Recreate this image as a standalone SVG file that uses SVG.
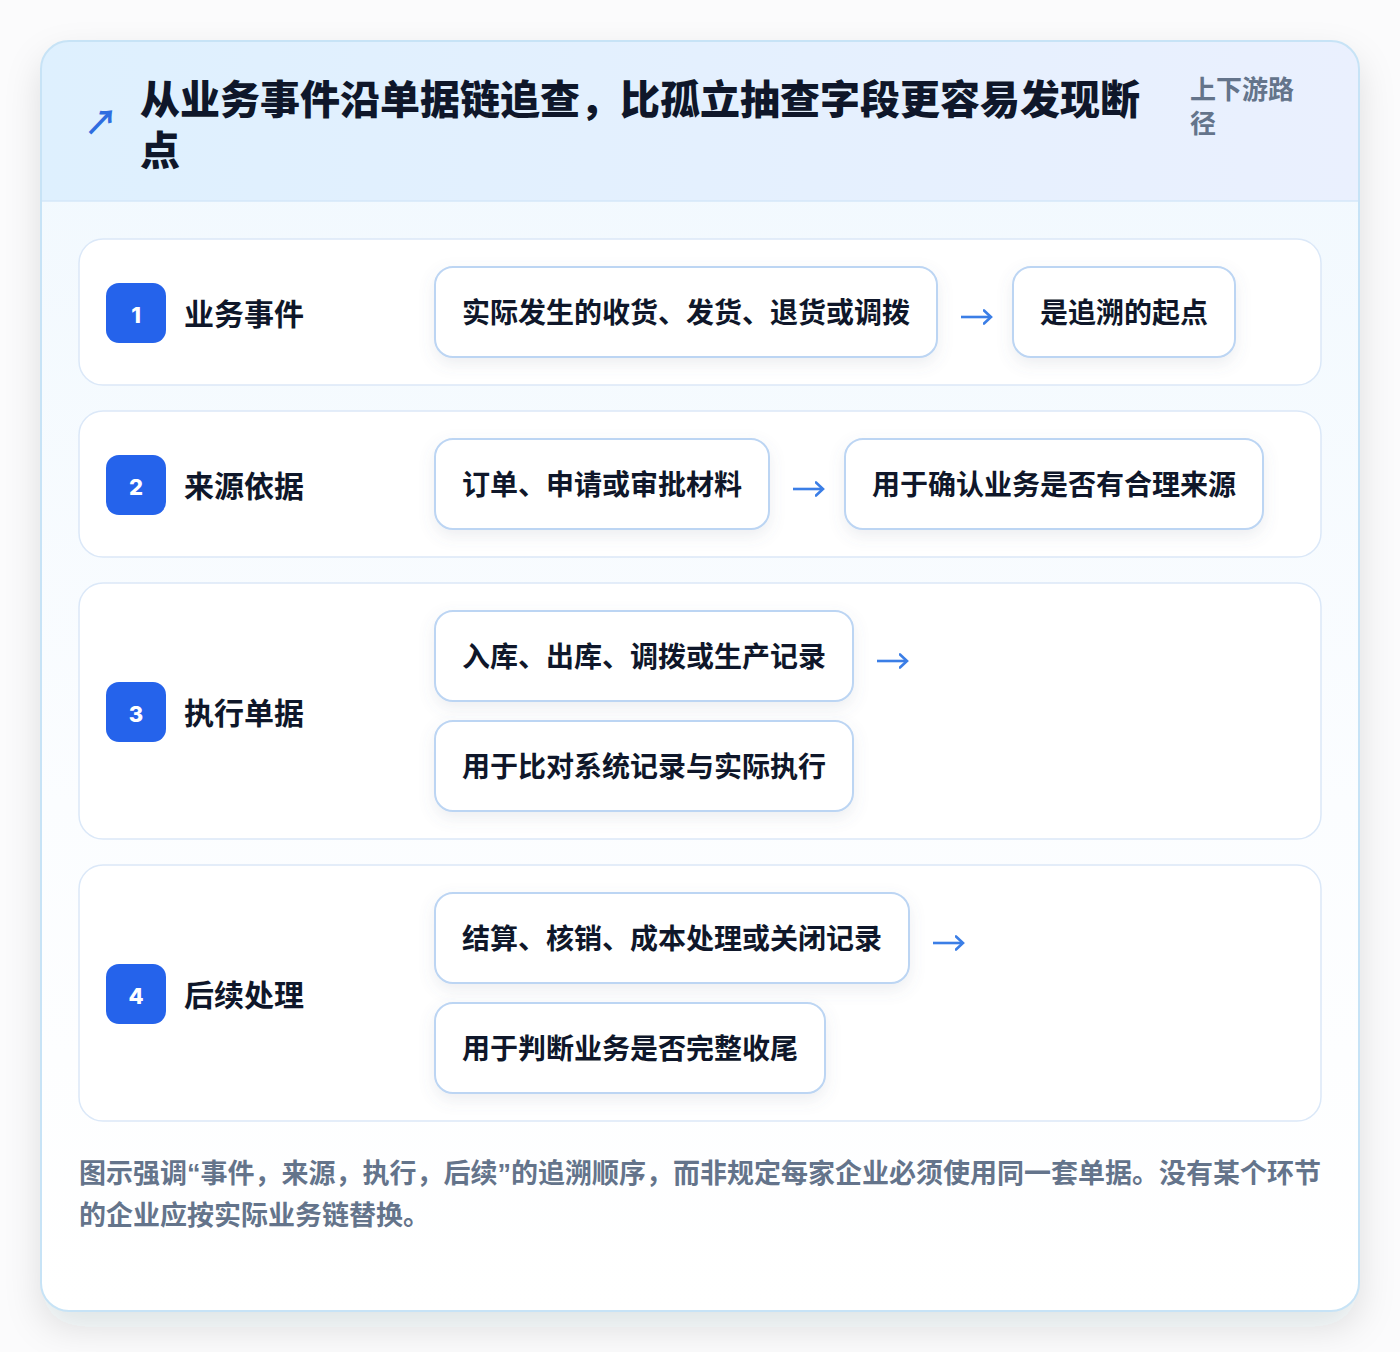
<svg xmlns="http://www.w3.org/2000/svg" width="1400" height="1352" viewBox="0 0 1400 1352">
<defs>
<style>
.cjk{font-family:"Noto Sans CJK SC","Noto Sans",sans-serif;}
.title{font-size:40px;font-weight:800;fill:#0f172a;}
.sub{font-size:26px;font-weight:700;fill:#64748b;}
.lbl{font-size:30px;font-weight:700;fill:#0f172a;}
.pt{font-size:28px;font-weight:700;fill:#0f172a;}
.num{font-family:Inter,"Noto Sans",sans-serif;font-size:22px;font-weight:800;fill:#ffffff;}
.row{fill:#ffffff;stroke:#dbe8f8;stroke-width:1.5;}
.pill{fill:#ffffff;stroke:#bcd5f3;stroke-width:2;}
.badge{fill:#2563eb;}
.conn{stroke:#3b7ee6;stroke-width:2.6;fill:none;}
.foot{font-family:"Liberation Sans","Noto Sans CJK SC",sans-serif;font-size:27px;font-weight:700;fill:#64748b;}
</style>
<marker id="ah" viewBox="0 0 10 16" refX="8.5" refY="8" markerWidth="10" markerHeight="16" markerUnits="userSpaceOnUse" orient="auto">
<path d="M1.5 1.5 L8.5 8 L1.5 14.5" fill="none" stroke="#3b7ee6" stroke-width="2.6" stroke-linecap="round" stroke-linejoin="miter"/>
</marker>
<linearGradient id="hdr" x1="0" y1="0" x2="1" y2="0">
<stop offset="0" stop-color="#def0fe"/>
<stop offset="1" stop-color="#eaf0fe"/>
</linearGradient>
<linearGradient id="body" x1="0" y1="0" x2="0" y2="1">
<stop offset="0" stop-color="#f0f8fe"/>
<stop offset="0.6" stop-color="#fbfdff"/>
<stop offset="1" stop-color="#ffffff"/>
</linearGradient>
<clipPath id="cardclip"><rect x="41" y="41" width="1318" height="1270" rx="28"/></clipPath>
<filter id="cardsh" x="-10%" y="-10%" width="120%" height="125%">
<feDropShadow dx="0" dy="16" stdDeviation="18" flood-color="#1e293b" flood-opacity="0.12"/>
</filter>
<filter id="pillsh" x="-10%" y="-20%" width="120%" height="150%">
<feDropShadow dx="0" dy="6" stdDeviation="8" flood-color="#64748b" flood-opacity="0.12"/>
</filter>
</defs>
<rect x="0" y="0" width="1400" height="1352" fill="#fbfbfc"/>
<g id="card">
<rect x="41" y="41" width="1318" height="1270" rx="28" fill="#ffffff" filter="url(#cardsh)"/>
<g clip-path="url(#cardclip)">
<rect x="41" y="41" width="1318" height="1270" fill="url(#body)"/>
<rect x="41" y="41" width="1318" height="160" fill="url(#hdr)"/>
<line x1="41" y1="201" x2="1359" y2="201" stroke="#d5e7f8" stroke-width="1.5"/>
</g>
<rect x="41" y="41" width="1318" height="1270" rx="28" fill="none" stroke="#c7e3f6" stroke-width="2"/>
</g>
<g id="header">
<text x="101" y="135" class="cjk" font-size="34" font-weight="700" fill="#2f6de0" text-anchor="middle">↗</text>
<text class="cjk title"><tspan x="140" y="114">从业务事件沿单据链追查，比孤立抽查字段更容易发现断</tspan><tspan x="140" y="165">点</tspan></text>
<text class="cjk sub"><tspan x="1190" y="99">上下游路</tspan><tspan x="1190" y="133">径</tspan></text>
</g>
<g id="row1">
<rect class="row" x="79" y="239" width="1242" height="146" rx="24"/>
<rect class="badge" x="106" y="283" width="60" height="60" rx="13"/>
<text class="num" x="136" y="323" text-anchor="middle">1</text>
<text class="cjk lbl" x="184" y="325">业务事件</text>
<g id="n1a"><rect class="pill" filter="url(#pillsh)" x="435" y="267" width="502" height="90" rx="18"/><text class="cjk pt" x="462" y="323">实际发生的收货、发货、退货或调拨</text></g>
<g id="n1b"><rect class="pill" filter="url(#pillsh)" x="1013" y="267" width="222" height="90" rx="18"/><text class="cjk pt" x="1040" y="323">是追溯的起点</text></g>
</g>
<g id="row2">
<rect class="row" x="79" y="411" width="1242" height="146" rx="24"/>
<rect class="badge" x="106" y="455" width="60" height="60" rx="13"/>
<text class="num" x="136" y="495" text-anchor="middle">2</text>
<text class="cjk lbl" x="184" y="497">来源依据</text>
<g id="n2a"><rect class="pill" filter="url(#pillsh)" x="435" y="439" width="334" height="90" rx="18"/><text class="cjk pt" x="462" y="495">订单、申请或审批材料</text></g>
<g id="n2b"><rect class="pill" filter="url(#pillsh)" x="845" y="439" width="418" height="90" rx="18"/><text class="cjk pt" x="872" y="495">用于确认业务是否有合理来源</text></g>
</g>
<g id="row3">
<rect class="row" x="79" y="583" width="1242" height="256" rx="24"/>
<rect class="badge" x="106" y="682" width="60" height="60" rx="13"/>
<text class="num" x="136" y="722" text-anchor="middle">3</text>
<text class="cjk lbl" x="184" y="724">执行单据</text>
<g id="n3a"><rect class="pill" filter="url(#pillsh)" x="435" y="611" width="418" height="90" rx="18"/><text class="cjk pt" x="462" y="667">入库、出库、调拨或生产记录</text></g>
<g id="n3b"><rect class="pill" filter="url(#pillsh)" x="435" y="721" width="418" height="90" rx="18"/><text class="cjk pt" x="462" y="777">用于比对系统记录与实际执行</text></g>
</g>
<g id="row4">
<rect class="row" x="79" y="865" width="1242" height="256" rx="24"/>
<rect class="badge" x="106" y="964" width="60" height="60" rx="13"/>
<text class="num" x="136" y="1004" text-anchor="middle">4</text>
<text class="cjk lbl" x="184" y="1006">后续处理</text>
<g id="n4a"><rect class="pill" filter="url(#pillsh)" x="435" y="893" width="474" height="90" rx="18"/><text class="cjk pt" x="462" y="949">结算、核销、成本处理或关闭记录</text></g>
<g id="n4b"><rect class="pill" filter="url(#pillsh)" x="435" y="1003" width="390" height="90" rx="18"/><text class="cjk pt" x="462" y="1059">用于判断业务是否完整收尾</text></g>
</g>
<g id="connectors">
<line class="conn" x1="961" y1="317" x2="991" y2="317" marker-end="url(#ah)"/>
<line class="conn" x1="793" y1="489" x2="823" y2="489" marker-end="url(#ah)"/>
<line class="conn" x1="877" y1="661" x2="907" y2="661" marker-end="url(#ah)"/>
<line class="conn" x1="933" y1="943" x2="963" y2="943" marker-end="url(#ah)"/>
</g>
<g id="footer">
<text class="foot" x="79" y="1183" textLength="1242" lengthAdjust="spacing">图示强调“事件，来源，执行，后续”的追溯顺序，而非规定每家企业必须使用同一套单据。没有某个环节</text>
<text class="foot" x="79" y="1225">的企业应按实际业务链替换。</text>
</g>
</svg>
